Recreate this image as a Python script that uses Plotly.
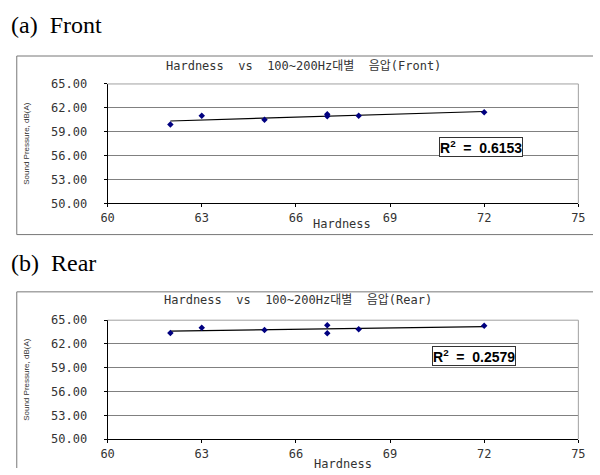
import numpy as np
import plotly.graph_objects as go

W, H = 600, 475

# Data
hardness_front = [62, 63, 65, 67, 67, 68, 72]
spl_front = [59.9, 61.0, 60.5, 61.2, 60.95, 61.0, 61.45]
hardness_rear = [62, 63, 65, 67, 67, 68, 72]
spl_rear = [63.4, 64.05, 63.75, 64.35, 63.35, 63.85, 64.3]

x_ticks = [60, 63, 66, 69, 72, 75]
y_ticks = [50, 53, 56, 59, 62, 65]

title_front = "Hardness  vs  100~200Hz대별  음압(Front)"
title_rear = "Hardness  vs  100~200Hz대별  음압(Rear)"
r2_front = "R<sup>2</sup>  =  0.6153"
r2_rear = "R<sup>2</sup>  =  0.2579"
panel_front = "(a)  Front"
panel_rear = "(b)  Rear"
x_title = "Hardness"
y_title = "Sound Pressure, dB(A)"


def px(x):
    return x / W


def py(y):
    return 1 - y / H


fig = go.Figure()

for i, (hx, hy) in enumerate([(hardness_front, spl_front), (hardness_rear, spl_rear)]):
    xa = "x" if i == 0 else "x2"
    ya = "y" if i == 0 else "y2"
    m, b = np.polyfit(hx, hy, 1)
    xl = [min(hx), max(hx)]
    fig.add_trace(go.Scatter(x=xl, y=[m * v + b for v in xl], mode="lines",
                             line=dict(color="black", width=1.2),
                             xaxis=xa, yaxis=ya, showlegend=False, hoverinfo="skip"))
    fig.add_trace(go.Scatter(x=hx, y=hy, mode="markers",
                             marker=dict(symbol="diamond", size=5, color="#000080"),
                             xaxis=xa, yaxis=ya, showlegend=False))

tickfont = dict(family="DejaVu Sans Mono", size=12, color="#333333")
titlefont = dict(family="DejaVu Sans Mono, Noto Sans CJK KR", size=12, color="#333333")
yfont = dict(family="Liberation Sans Narrow, Liberation Sans", size=8, color="#333333")
xdom = [px(103), px(585)]
common_x = dict(range=[60, 75], tickvals=x_ticks, ticktext=[str(v) for v in x_ticks],
                showgrid=False, zeroline=False, showline=True, linecolor="black",
                linewidth=1, ticks="outside", ticklen=3, tickcolor="black",
                tickfont=tickfont, mirror=False, domain=xdom)
common_y = dict(range=[50, 65], tickvals=y_ticks, ticktext=[f"{v:.2f}" for v in y_ticks],
                showgrid=True, gridcolor="#808080", gridwidth=1, zeroline=False,
                showline=True, linecolor="black", linewidth=1, ticks="outside",
                ticklen=3, tickcolor="black", tickfont=tickfont, ticklabelstandoff=14,
                title=dict(text=y_title, font=yfont, standoff=20))

fig.update_layout(
    width=W, height=H, margin=dict(l=0, r=0, t=0, b=0),
    paper_bgcolor="white", plot_bgcolor="white",
    xaxis=dict(common_x, anchor="y"),
    yaxis=dict(common_y, domain=[py(202.3), py(79.3)], anchor="x"),
    xaxis2=dict(common_x, anchor="y2", title=dict(text=x_title, font=titlefont, standoff=0)),
    yaxis2=dict(common_y, domain=[py(445.3), py(322.7)], anchor="x2"),
)

shapes = []
for (top, bot) in [(79.3, 202.3), (322.7, 445.3)]:
    shapes.append(dict(type="line", xref="paper", yref="paper", x0=px(103), x1=px(585),
                       y0=py(top), y1=py(top), line=dict(color="#a0a0a0", width=1)))
    shapes.append(dict(type="line", xref="paper", yref="paper", x0=px(585), x1=px(585),
                       y0=py(top), y1=py(bot), line=dict(color="#a0a0a0", width=1)))
gray = "#777777"
shapes += [
    dict(type="line", xref="paper", yref="paper", x0=px(10), x1=1, y0=py(50.5), y1=py(50.5), line=dict(color=gray, width=1)),
    dict(type="line", xref="paper", yref="paper", x0=px(10), x1=px(10), y0=py(50.5), y1=py(234.5), line=dict(color=gray, width=1)),
    dict(type="line", xref="paper", yref="paper", x0=px(10), x1=1, y0=py(234.5), y1=py(234.5), line=dict(color=gray, width=1)),
    dict(type="line", xref="paper", yref="paper", x0=px(10), x1=1, y0=py(293.5), y1=py(293.5), line=dict(color=gray, width=1)),
    dict(type="line", xref="paper", yref="paper", x0=px(10), x1=px(10), y0=py(293.5), y1=0, line=dict(color=gray, width=1)),
]
fig.update_layout(shapes=shapes)

ann = []
serif = dict(family="Liberation Serif", size=24, color="black")
ann.append(dict(x=0, y=py(19), xref="paper", yref="paper", text=panel_front, showarrow=False,
                xanchor="left", yanchor="middle", font=serif, xshift=2))
ann.append(dict(x=0, y=py(264), xref="paper", yref="paper", text=panel_rear, showarrow=False,
                xanchor="left", yanchor="middle", font=serif, xshift=2))
ann.append(dict(x=px(304), y=py(61), xref="paper", yref="paper", text=title_front, showarrow=False,
                xanchor="center", yanchor="middle", font=titlefont))
ann.append(dict(x=px(298), y=py(302), xref="paper", yref="paper", text=title_rear, showarrow=False,
                xanchor="center", yanchor="middle", font=titlefont))
ann.append(dict(x=px(343), y=py(224), xref="paper", yref="paper", text=x_title, showarrow=False,
                xanchor="center", yanchor="middle", font=titlefont))
r2font = dict(family="Liberation Sans", size=14, color="black")
ann.append(dict(x=px(485), y=py(144.5), xref="paper", yref="paper", text="<b>" + r2_front + "</b>",
                showarrow=False, xanchor="center", yanchor="middle", font=r2font,
                bordercolor="#333333", borderwidth=1, borderpad=0, bgcolor="white"))
ann.append(dict(x=px(478), y=py(360), xref="paper", yref="paper", text="<b>" + r2_rear + "</b>",
                showarrow=False, xanchor="center", yanchor="middle", font=r2font,
                bordercolor="#333333", borderwidth=1, borderpad=0, bgcolor="white"))
fig.update_layout(annotations=ann)

fig.write_html("out.html")
